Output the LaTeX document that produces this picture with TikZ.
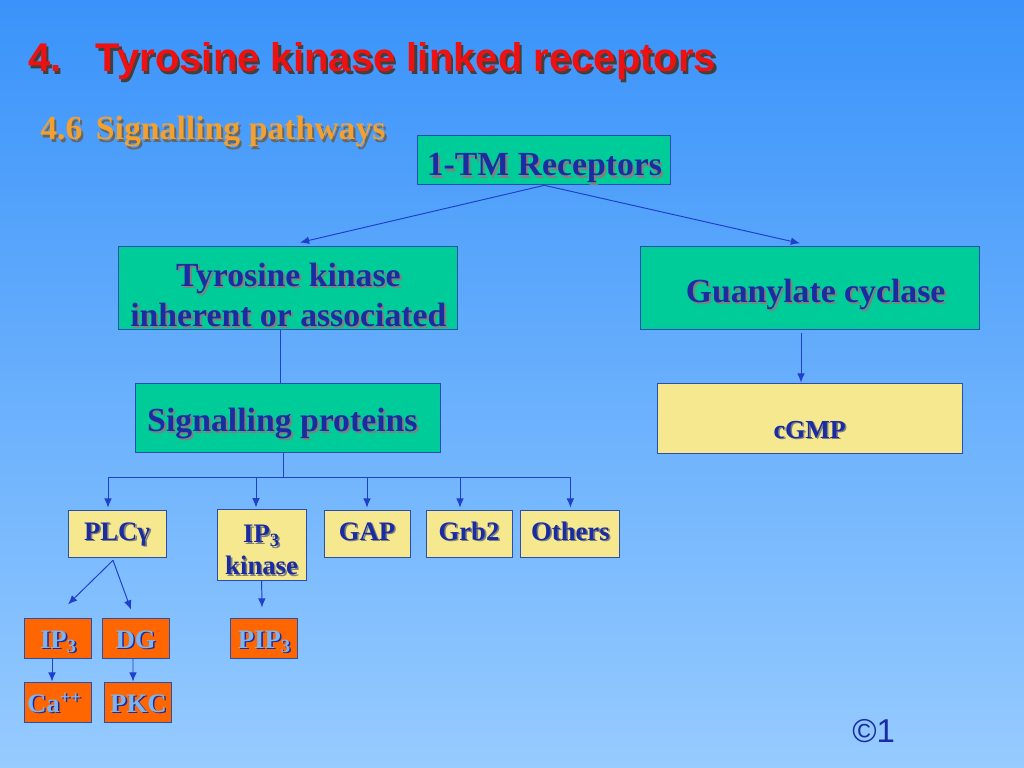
\documentclass[tikz,border=0pt]{standalone}
\usepackage{fontspec}
\setmainfont{Liberation Serif}
\newfontfamily\arialfont{Liberation Sans}
\usetikzlibrary{arrows.meta, positioning, calc}
\definecolor{bgtop}{HTML}{3A93FA}
\definecolor{bgbottom}{HTML}{96CBFF}
\definecolor{boxteal}{HTML}{00CC99}
\definecolor{boxyellow}{HTML}{F5E88E}
\definecolor{boxorange}{HTML}{FF6600}
\definecolor{edgeblue}{HTML}{2A4DB0}
\definecolor{textnavy}{HTML}{1A2CA0}
\definecolor{arrowblue}{HTML}{2040CC}
\definecolor{titlered}{HTML}{EE1111}
\definecolor{suborange}{HTML}{F2A030}
\definecolor{paleblue}{HTML}{7DB4F0}
\newcommand{\shtxt}[2][black!50]{\leavevmode\rlap{\hspace{0.06em}\raisebox{-0.06em}{\textcolor{#1}{#2}}}#2}

\begin{document}
\begin{tikzpicture}[
  tbox/.style={rectangle, draw=edgeblue, fill=boxteal, line width=0.6pt,
              align=center, text=textnavy, inner sep=1pt,
              text height=0.8cm, text depth=0.12cm,
              font=\fontsize{24}{28.5}\selectfont\bfseries},
  ybox/.style={rectangle, draw=edgeblue, fill=boxyellow, line width=0.6pt,
              align=center, text=textnavy, inner sep=1pt,
              text height=0.45cm, text depth=0.13cm,
              font=\fontsize{19}{23}\selectfont\bfseries},
  obox/.style={rectangle, draw=edgeblue, fill=boxorange, line width=0.6pt,
              align=center, text=paleblue, inner sep=1pt,
              text height=0.55cm, text depth=0.05cm,
              minimum width=1.675cm, minimum height=1.0cm,
              font=\fontsize{19}{21}\selectfont\bfseries},
  arr/.style={-{Latex[length=2.3mm,width=1.9mm]}, line width=0.7pt, color=arrowblue},
  link/.style={line width=0.7pt, color=arrowblue},
  hdr/.style={anchor=base west, inner sep=0pt, text=titlered,
              font=\arialfont\fontsize{28.5}{30}\selectfont\bfseries},
  sub/.style={anchor=base west, inner sep=0pt, text=suborange,
              font=\fontsize{24}{26}\selectfont\bfseries},
]
%% --- Background ---
\shade[top color=bgtop, bottom color=bgbottom] (0,0) rectangle (25.6,-19.2);

%% --- Headings ---
\node[hdr] (title) at (0.7,-1.8) {\shtxt[black!75]{4.\hspace{0.85em}Tyrosine kinase linked receptors}};
\node[sub] (subtitle) at (1.0,-3.5) {\shtxt[black!60]{4.6\hspace{0.4em}Signalling pathways}};

%% --- Receptor level ---
\node[tbox, minimum width=6.325cm, minimum height=1.225cm, text height=0.9cm] (rec) at (13.61,-4.01) {\shtxt{1-TM Receptors}};

\node[tbox, minimum width=8.475cm, minimum height=2.075cm, text height=1.96cm, text depth=0.04cm] (tk) at (7.21,-7.21)
  {\shtxt{Tyrosine kinase}\\\shtxt{inherent or associated}};
\node[tbox, minimum width=8.475cm, minimum height=2.075cm] (gc) at (20.24,-7.21) {\hspace{0.3cm}\shtxt{Guanylate cyclase}};

\node[tbox, minimum width=7.625cm, minimum height=1.725cm] (sp) at (7.21,-10.44) {\shtxt{Signalling proteins}\hspace{0.3cm}};
\node[ybox, minimum width=7.625cm, minimum height=1.75cm, text height=1.0cm, text depth=0pt,
      font=\fontsize{18.5}{20}\selectfont\bfseries] (cgmp) at (20.24,-10.45) {\shtxt{cGMP}};

%% --- Signalling proteins ---
\node[ybox, minimum width=2.45cm, minimum height=1.175cm] (plc) at (2.925,-13.34) {\shtxt{PLCγ}};
\node[ybox, minimum width=2.225cm, minimum height=1.75cm, text height=1.59cm, text depth=0.1cm] (ip3k) at (6.54,-13.625) {\shtxt{IP\textsubscript{3}}\\\shtxt{kinase}};
\node[ybox, minimum width=2.15cm, minimum height=1.175cm] (gap) at (9.175,-13.34) {\shtxt{GAP}};
\node[ybox, minimum width=2.15cm, minimum height=1.175cm] (grb) at (11.725,-13.34) {\shtxt{Grb2}};
\node[ybox, minimum width=2.475cm, minimum height=1.175cm] (oth) at (14.26,-13.34) {\shtxt{Others}};

%% --- Second messengers ---
\node[obox] (ip3) at (1.46,-15.95) {\shtxt[textnavy]{IP\textsubscript{3}}};
\node[obox] (dg) at (3.39,-15.95) {\shtxt[textnavy]{DG}};
\node[obox] (pip) at (6.61,-15.95) {\shtxt[textnavy]{PIP\textsubscript{3}}};
\node[obox] (ca) at (1.46,-17.55) {\shtxt[textnavy]{Ca\textsuperscript{++}}\hspace{0.2cm}};
\node[obox] (pkc) at (3.46,-17.55) {\shtxt[textnavy]{PKC}};

%% --- Connectors ---
\draw[arr] (rec.south) -- ([xshift=0.29cm,yshift=0.1cm]tk.north);
\draw[arr] (rec.south) -- ([xshift=-0.24cm,yshift=0.08cm]gc.north);
\draw[link] ([xshift=-0.19cm]tk.south) -- ([xshift=-0.19cm]sp.north);
\draw[arr] ([xshift=-0.215cm,yshift=-0.07cm]gc.south) -- ([xshift=-0.215cm]cgmp.north);

\coordinate (bus) at ([xshift=-0.135cm,yshift=-0.62cm]sp.south);
\draw[link] ([xshift=-0.135cm]sp.south) -- (bus);
\draw[arr] (bus) -| ([xshift=-0.225cm,yshift=0.05cm]plc.north);
\draw[arr] (bus) -| ([xshift=-0.14cm,yshift=0.05cm]ip3k.north);
\draw[arr] (bus) -| ([yshift=0.05cm]gap.north);
\draw[arr] (bus) -| ([xshift=-0.225cm,yshift=0.05cm]grb.north);
\draw[arr] (bus) -| ([yshift=0.05cm]oth.north);

\draw[arr] ([xshift=-0.1cm,yshift=-0.07cm]plc.south) -- ([xshift=0.24cm,yshift=0.33cm]ip3.north);
\draw[arr] ([xshift=-0.1cm,yshift=-0.07cm]plc.south) -- ([xshift=-0.115cm,yshift=0.2cm]dg.north);
\draw[arr] (ip3k.south) -- ([xshift=-0.06cm,yshift=0.25cm]pip.north);
\draw[arr] ([xshift=-0.16cm]ip3.south) -- ([xshift=-0.16cm]ca.north);
\draw[arr] ([xshift=-0.065cm]dg.south) -- ([xshift=-0.135cm]pkc.north);

%% --- Page number ---
\node[anchor=base west, inner sep=0pt, text=textnavy,
      font=\arialfont\fontsize{23.5}{25}\selectfont] (pgno) at (21.3,-18.55) {©1};
\end{tikzpicture}
\end{document}
